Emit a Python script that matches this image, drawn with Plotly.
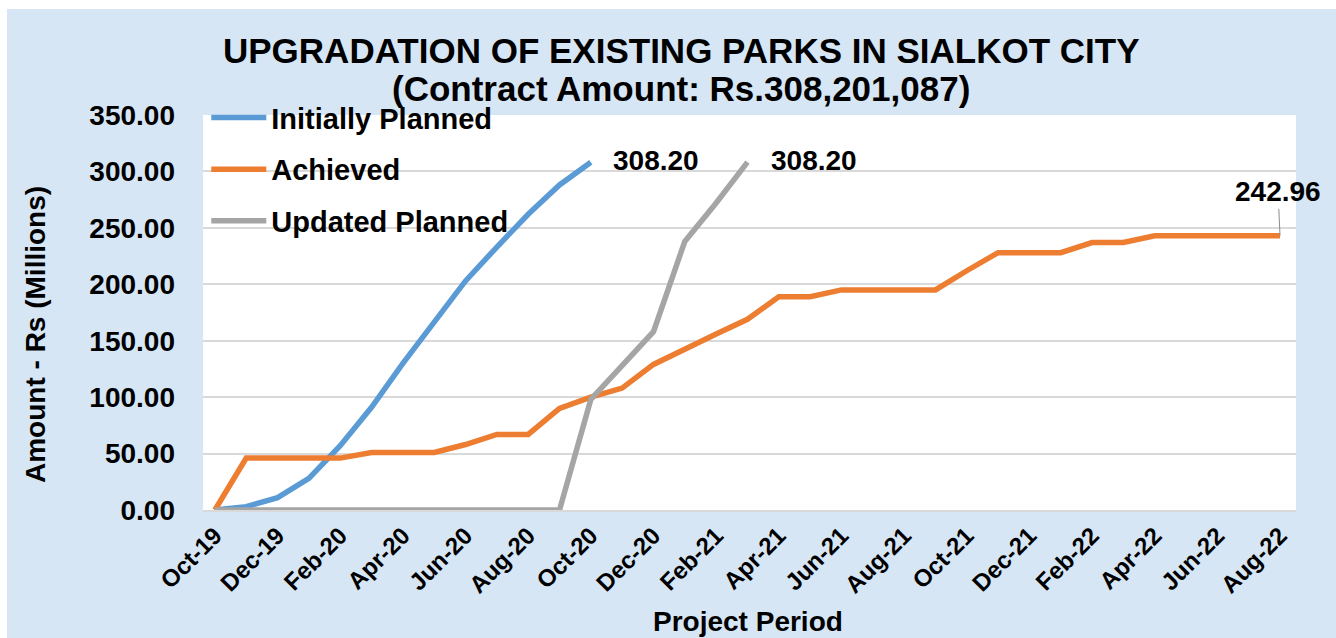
import plotly.graph_objects as go

months = ["Oct-19", "Nov-19", "Dec-19", "Jan-20", "Feb-20", "Mar-20", "Apr-20", "May-20",
          "Jun-20", "Jul-20", "Aug-20", "Sep-20", "Oct-20", "Nov-20", "Dec-20", "Jan-21",
          "Feb-21", "Mar-21", "Apr-21", "May-21", "Jun-21", "Jul-21", "Aug-21", "Sep-21",
          "Oct-21", "Nov-21", "Dec-21", "Jan-22", "Feb-22", "Mar-22", "Apr-22", "May-22",
          "Jun-22", "Jul-22", "Aug-22"]

initially_planned = [0, 3, 11, 28, 57, 91, 130, 167, 203, 233, 262, 288, 308.20]

achieved = [0, 46, 46, 46, 46, 51, 51, 51, 58, 67, 67, 90, 100, 108, 129, 143, 156, 169,
            189, 189, 195, 195, 195, 195, 212, 228, 228, 228, 237, 237, 242.96, 242.96,
            242.96, 242.96, 242.96]

updated_planned = [0, 0, 0, 0, 0, 0, 0, 0, 0, 0, 0, 0, 98, 128, 158, 238, 272, 308.20]

tick_labels = months[::2]
y_ticks = [0, 50, 100, 150, 200, 250, 300, 350]

title_lines = ["UPGRADATION OF EXISTING PARKS IN SIALKOT CITY",
               "(Contract Amount: Rs.308,201,087)"]

FONT = "Arial, 'Liberation Sans', sans-serif"
BLUE = "#5B9BD5"
ORANGE = "#ED7D31"
GRAY = "#A5A5A5"
BG = "#d6e6f5"

# plot-area geometry in pixels (used to place paper-referenced items)
L, R, T, B = 203, 40, 115, 128
W, H = 1336, 638
PW, PH = W - L - R, H - T - B


def px_x(x):
    return (x - L) / PW


def px_y(y):
    return (H - B - y) / PH


def bold(s):
    return dict(family=FONT, size=s, color="black", weight="bold")


fig = go.Figure()
fig.add_trace(go.Scatter(x=months[:len(initially_planned)], y=initially_planned,
                         mode="lines", name="Initially Planned", legendgroup="a",
                         line=dict(color=BLUE, width=5.5)))
fig.add_trace(go.Scatter(x=months[:len(achieved)], y=achieved,
                         mode="lines", name="Achieved", legendgroup="b",
                         line=dict(color=ORANGE, width=5.5)))
fig.add_trace(go.Scatter(x=months[:len(updated_planned)], y=updated_planned,
                         mode="lines", name="Updated Planned", legendgroup="c",
                         line=dict(color=GRAY, width=5.5)))

# data labels
fig.add_annotation(x=months[len(initially_planned) - 1], y=initially_planned[-1],
                   text=f"{initially_planned[-1]:.2f}", showarrow=False,
                   xanchor="left", xshift=20, yshift=2, font=bold(28))
fig.add_annotation(x=months[len(updated_planned) - 1], y=updated_planned[-1],
                   text=f"{updated_planned[-1]:.2f}", showarrow=False,
                   xanchor="left", xshift=22, yshift=2, font=bold(28))
fig.add_annotation(x=months[len(achieved) - 1], y=achieved[-1],
                   text=f"{achieved[-1]:.2f}", showarrow=True,
                   arrowhead=0, arrowwidth=1, arrowcolor="#8c8c8c",
                   ax=-2, ay=-44, standoff=0, font=bold(28))

# titles as annotations
fig.add_annotation(xref="paper", yref="paper", x=px_x(681), y=px_y(50),
                   text=title_lines[0], showarrow=False, xanchor="center",
                   yanchor="middle", font=bold(35))
fig.add_annotation(xref="paper", yref="paper", x=px_x(681), y=px_y(88),
                   text=title_lines[1], showarrow=False, xanchor="center",
                   yanchor="middle", font=bold(35))
fig.add_annotation(xref="paper", yref="paper", x=px_x(35), y=px_y(335),
                   text="Amount - Rs (Millions)", textangle=-90, showarrow=False,
                   xanchor="center", yanchor="middle", font=bold(28))
fig.add_annotation(xref="paper", yref="paper", x=px_x(748), y=px_y(621),
                   text="Project Period", showarrow=False,
                   xanchor="center", yanchor="middle", font=bold(28))

# white border strips at top and left
fig.add_shape(type="rect", xref="paper", yref="paper", x0=px_x(-20), x1=px_x(W + 20),
              y0=px_y(9), y1=px_y(-20), fillcolor="white", line=dict(width=0), layer="below")
fig.add_shape(type="rect", xref="paper", yref="paper", x0=px_x(-20), x1=px_x(7),
              y0=px_y(H + 20), y1=px_y(-20), fillcolor="white", line=dict(width=0), layer="below")

fig.update_layout(
    width=W, height=H,
    margin=dict(l=L, r=R, t=T, b=B, autoexpand=False),
    paper_bgcolor=BG, plot_bgcolor="white",
    font=dict(family=FONT, color="black"),
    showlegend=True,
    legend=dict(x=0.003, xanchor="left", y=1.058, yanchor="top",
                bgcolor="rgba(0,0,0,0)", tracegroupgap=11, itemwidth=55,
                font=bold(29)),
    xaxis=dict(type="category", categoryorder="array", categoryarray=months,
               range=[-0.38, len(months) - 1 + 0.51],
               tickmode="array", tickvals=tick_labels, ticktext=tick_labels,
               tickangle=-45, showgrid=False, ticks="",
               tickfont=bold(24),
               showline=True, linecolor="#d9d9d9", linewidth=2),
    yaxis=dict(range=[0, 350], tickmode="array", tickvals=y_ticks, tickformat=".2f",
               showgrid=True, gridcolor="#d9d9d9", gridwidth=1.5, zeroline=False,
               ticklabelstandoff=27, tickfont=bold(28)),
)

fig.write_html("out.html", config={"displayModeBar": False},
               post_script="document.body.style.margin='0';")
